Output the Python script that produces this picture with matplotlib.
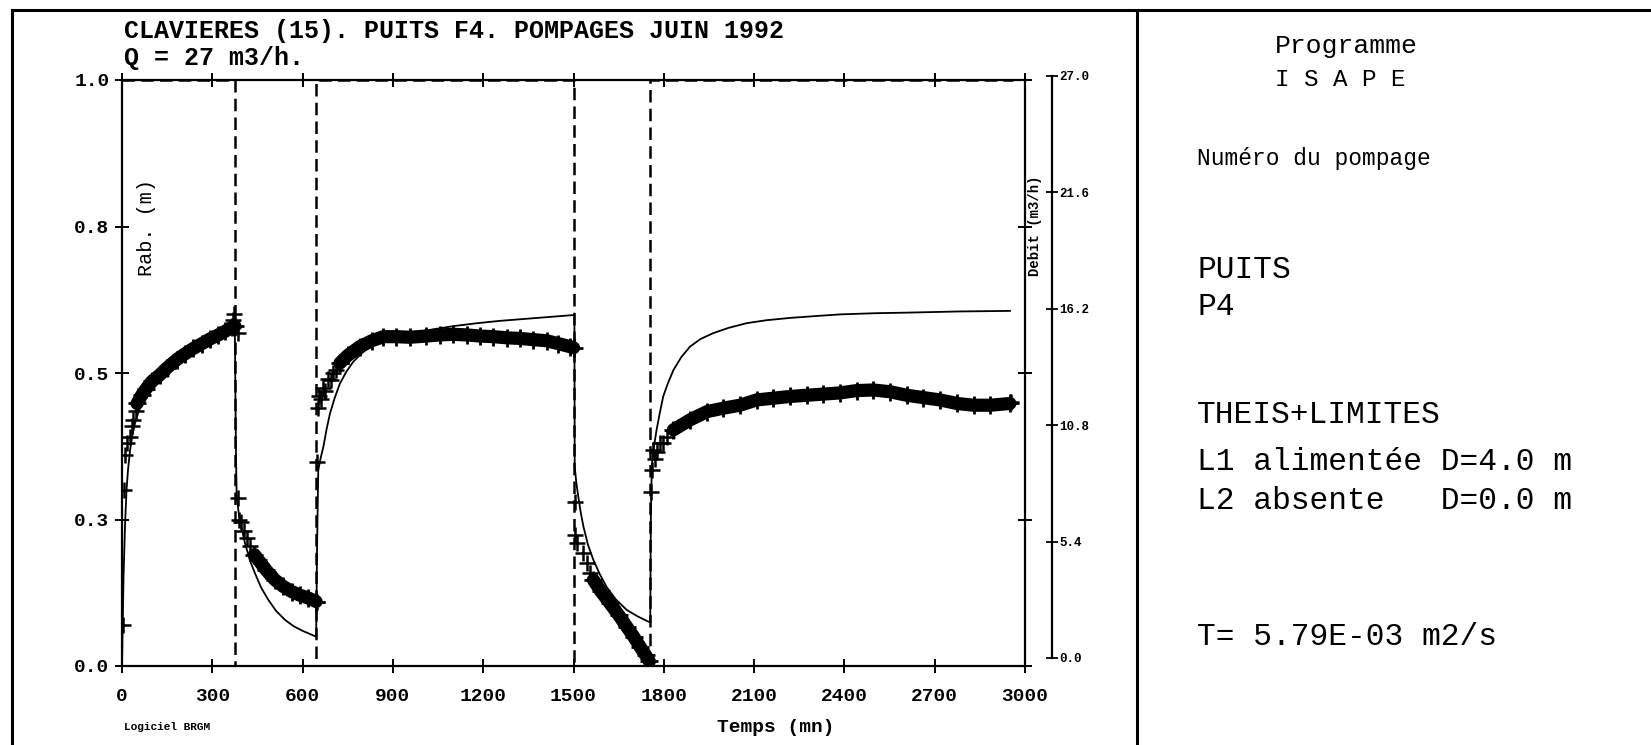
import matplotlib
matplotlib.use('Agg')
import matplotlib.pyplot as plt
from matplotlib.lines import Line2D

# time axis (mn) and drawdown (m)
x_ticks = [0, 300, 600, 900, 1200, 1500, 1800, 2100, 2400, 2700, 3000]
y_ticks = [0.0, 0.25, 0.5, 0.75, 1.0]
y_labels = ['0.0', '0.3', '0.5', '0.8', '1.0']
q_ticks = [0.0, 5.4, 10.8, 16.2, 21.6, 27.0]

# pumping rate steps (m3/h)
debit_t = [0, 375, 375, 645, 645, 1503, 1503, 1755, 1755, 2960]
debit_q = [27, 27, 0, 0, 27, 27, 0, 0, 27, 27]

# theis + limits model curve
model_t = [0, 2, 5, 10, 15, 20, 27, 35, 43, 55, 71, 88, 104, 125, 150, 200, 250, 300, 350, 375,
           377, 379, 381, 388, 395, 409, 425, 442, 462, 486, 512, 542, 570, 600, 645,
           648, 652, 660, 669, 680, 691, 707, 724, 745, 768, 795, 824, 850, 879, 925, 979, 1040,
           1101, 1180, 1256, 1380, 1503,
           1504, 1510, 1516, 1524, 1533, 1548, 1566, 1587, 1610, 1640, 1677, 1712, 1749, 1755,
           1757, 1760, 1766, 1776, 1786, 1798, 1814, 1832, 1858, 1887, 1922, 1964, 2015, 2075,
           2140, 2219, 2300, 2385, 2500, 2607, 2780, 2950]
model_v = [0.0, 0.06, 0.15, 0.24, 0.30, 0.335, 0.369, 0.395, 0.414, 0.434, 0.454, 0.467, 0.477, 0.49, 0.50,
           0.522, 0.538, 0.552, 0.565, 0.572,
           0.45, 0.35, 0.289, 0.26, 0.24, 0.209, 0.18, 0.158, 0.134, 0.113, 0.094, 0.0785, 0.068, 0.06, 0.05,
           0.20, 0.334, 0.355, 0.374, 0.405, 0.431, 0.458, 0.482, 0.502, 0.519, 0.533, 0.545, 0.553, 0.559,
           0.565, 0.570, 0.575, 0.58, 0.585, 0.589, 0.594, 0.599,
           0.34, 0.31, 0.289, 0.262, 0.238, 0.207, 0.181, 0.157, 0.135, 0.114, 0.0956, 0.085, 0.0756, 0.075,
           0.25, 0.34, 0.37, 0.403, 0.43, 0.46, 0.483, 0.505, 0.527, 0.545, 0.558, 0.568, 0.577, 0.585,
           0.59, 0.594, 0.597, 0.60, 0.602, 0.603, 0.605, 0.606]

# isolated early measurements after each change of rate
early_t = [2, 8, 10, 18, 25, 32, 38, 45, 368, 372, 387,
           386, 390, 395, 405, 415, 425, 648,
           648, 652, 655, 660, 667, 676, 684, 693, 702, 710,
           1505, 1505, 1512, 1533, 1544, 1555,
           1757, 1760, 1765, 1771, 1776, 1787, 1798, 1810, 2955]
early_v = [0.07, 0.30, 0.36, 0.38, 0.39, 0.41, 0.42, 0.435, 0.59, 0.60, 0.568,
           0.286, 0.25, 0.245, 0.23, 0.218, 0.204, 0.11,
           0.348, 0.44, 0.46, 0.455, 0.475, 0.47, 0.49, 0.488, 0.50, 0.505,
           0.28, 0.224, 0.21, 0.192, 0.175, 0.158,
           0.297, 0.334, 0.369, 0.354, 0.366, 0.38, 0.38, 0.391, 0.45]

# dense measurements (one band per pumping / recovery period)
band1_t = [50, 65, 80, 100, 126, 150, 182, 210, 237, 265, 292, 320, 342, 365, 375]
band1_v = [0.448, 0.462, 0.473, 0.486, 0.497, 0.509, 0.523, 0.533, 0.542, 0.55, 0.558, 0.565, 0.571, 0.578, 0.58]
band2_t = [440, 453, 480, 508, 535, 564, 590, 619, 645]
band2_v = [0.19, 0.181, 0.163, 0.147, 0.136, 0.127, 0.121, 0.116, 0.11]
band3_t = [724, 750, 790, 830, 868, 910, 957, 1010, 1056, 1100, 1145, 1190, 1234, 1280, 1322, 1365, 1411, 1450, 1488, 1500]
band3_v = [0.517, 0.53, 0.545, 0.555, 0.562, 0.562, 0.561, 0.563, 0.565, 0.566, 0.565, 0.563, 0.562, 0.560, 0.559,
           0.557, 0.555, 0.55, 0.545, 0.543]
band4_t = [1566, 1590, 1621, 1650, 1677, 1700, 1721, 1740, 1752]
band4_v = [0.147, 0.128, 0.107, 0.087, 0.067, 0.05, 0.033, 0.018, 0.008]
band5_t = [1832, 1887, 1943, 1998, 2053, 2108, 2164, 2220, 2275, 2330, 2385, 2441, 2496, 2552, 2607,
           2662, 2718, 2774, 2829, 2885, 2950]
band5_v = [0.403, 0.42, 0.434, 0.44, 0.445, 0.454, 0.457, 0.46, 0.462, 0.464, 0.466, 0.47, 0.471, 0.468, 0.462,
           0.458, 0.454, 0.448, 0.445, 0.445, 0.448]

W, H = 1651, 745
mono = 'Liberation Mono'
fig = plt.figure(figsize=(W / 100, H / 100), dpi=100)

# page frame
for xs, ys in [([12, W], [10, 10]), ([12, 12], [10, H]), ([1137, 1137], [10, H])]:
    fig.add_artist(Line2D([x / W for x in xs], [1 - y / H for y in ys], color='black', lw=2.2,
                          transform=fig.transFigure))

ax = fig.add_axes([122 / W, 1 - 666 / H, 903 / W, 586 / H])
ax.set_xlim(0, 3000)
ax.set_ylim(0, 1)

# rate steps drawn on a hidden twin axis
axq = ax.twinx()
axq.set_ylim(0, 27)
axq.plot(debit_t, debit_q, color='black', lw=1.8, ls=(0, (5, 2.5)))
axq.axis('off')

ax.plot(model_t, model_v, color='black', lw=1.3, zorder=3)
for bt, bv in [(band1_t, band1_v), (band2_t, band2_v), (band3_t, band3_v), (band4_t, band4_v), (band5_t, band5_v)]:
    ax.plot(bt, bv, color='black', lw=9.5, solid_capstyle='round', solid_joinstyle='round', zorder=4)
    ax.plot(bt, bv, color='black', ls='none', marker='+', ms=13, mew=2, zorder=4)
ax.plot(early_t, early_v, color='black', ls='none', marker='+', ms=12, mew=1.8, zorder=4)

for s in ax.spines.values():
    s.set_linewidth(1.6)
ax.set_xticks(x_ticks)
ax.set_xticklabels([str(v) for v in x_ticks])
ax.set_yticks(y_ticks)
ax.set_yticklabels(y_labels)
ax.tick_params(direction='inout', length=10, width=1.4, top=True, right=True, labelsize=14)
ax.tick_params(axis='x', pad=11)
ax.tick_params(axis='y', pad=4)
for lab in ax.get_xticklabels() + ax.get_yticklabels():
    lab.set_family(mono)
    lab.set_fontweight('bold')

ax.text(0.027, 0.748, 'Rab. (m)', transform=ax.transAxes, rotation=90, ha='center', va='center',
        fontsize=14.5, family=mono)

# debit axis on the right
ax2 = fig.add_axes([1052 / W - 0.0002, 1 - 658 / H, 0.0002, 582 / H])
ax2.set_ylim(0, 27)
for k in ['left', 'top', 'bottom']:
    ax2.spines[k].set_visible(False)
ax2.spines['right'].set_linewidth(1.6)
ax2.set_xticks([])
ax2.yaxis.tick_right()
ax2.set_yticks(q_ticks)
ax2.set_yticklabels(['%.1f' % q for q in q_ticks], family=mono, fontweight='bold', fontsize=9)
ax2.tick_params(direction='inout', length=9, width=1.3, pad=1)
fig.text(1035 / W, 1 - 226 / H, 'Debit (m3/h)', rotation=90, ha='center', va='center',
         fontsize=10, family=mono, fontweight='bold')

# header and footer of the graph
fig.text(124 / W, 1 - 31 / H, 'CLAVIERES (15). PUITS F4. POMPAGES JUIN 1992', ha='left', va='center',
         fontsize=18, family=mono, fontweight='bold')
fig.text(124 / W, 1 - 58 / H, 'Q = 27 m3/h.', ha='left', va='center',
         fontsize=18, family=mono, fontweight='bold')
fig.text(124 / W, 1 - 727 / H, 'Logiciel BRGM', ha='left', va='center',
         fontsize=8, family=mono, fontweight='bold')
fig.text(776 / W, 1 - 727 / H, 'Temps (mn)', ha='center', va='center',
         fontsize=14, family=mono, fontweight='bold')

# right panel
panel = [(1275, 46, 'Programme', 19), (1275, 80, 'I S A P E', 17.5),
         (1197, 159, 'Numéro du pompage', 16.5),
         (1197, 270, 'PUITS', 22.5), (1197, 307, 'P4', 22.5), (1197, 415, 'THEIS+LIMITES', 22.5),
         (1197, 462, 'L1 alimentée D=4.0 m', 22.5), (1197, 501, 'L2 absente   D=0.0 m', 22.5),
         (1197, 637, 'T= 5.79E-03 m2/s', 22.5)]
for px, py, txt, fs in panel:
    fig.text(px / W, 1 - py / H, txt, ha='left', va='center', fontsize=fs, family=mono)

fig.savefig('out.png', dpi=100)
